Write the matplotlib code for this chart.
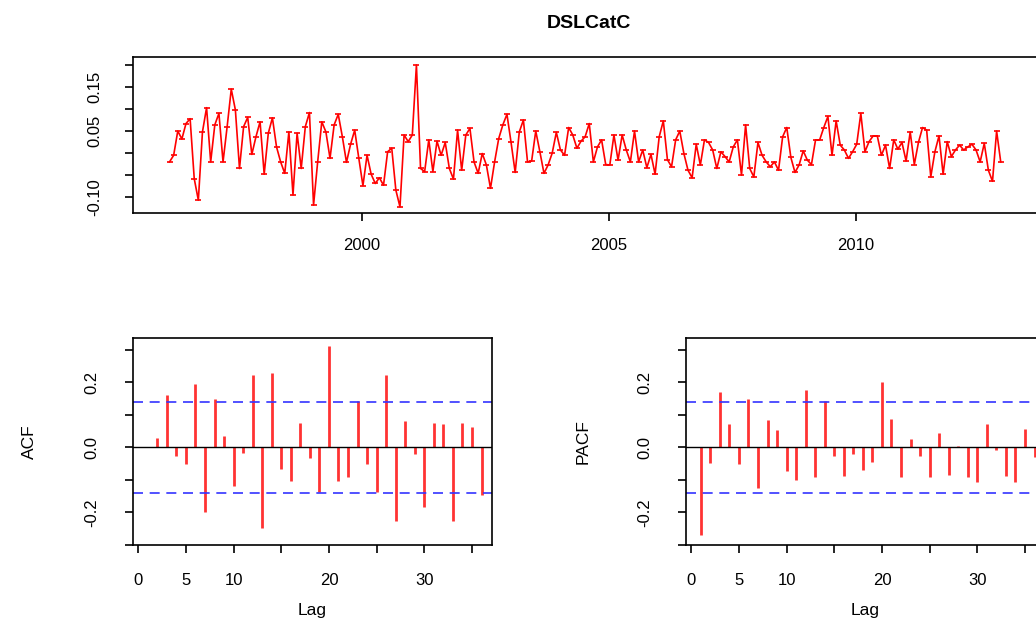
import matplotlib
matplotlib.use("Agg")
import matplotlib.pyplot as plt
import numpy as np

plt.rcParams['font.family'] = ['Liberation Sans', 'DejaVu Sans']

# monthly series
series = [
    -0.020, -0.005, 0.050, 0.032, 0.067, 0.078, -0.058, -0.107, 0.048, 0.103,
    -0.020, 0.064, 0.090, -0.020, 0.060, 0.145, 0.098, -0.035, 0.060, 0.081,
    -0.003, 0.037, 0.071, -0.048, 0.045, 0.080, 0.014, -0.020, -0.046, 0.048,
    -0.095, 0.045, -0.035, 0.060, 0.092, -0.118,
    -0.020, 0.071, 0.048, -0.012, 0.064, 0.088, 0.037, -0.021, 0.020, 0.052,
    -0.012, -0.074, -0.005, -0.048, -0.069, -0.056, -0.073, 0.003, 0.011, -0.084,
    -0.122, 0.041, 0.026, 0.041, 0.200, -0.035, -0.042, 0.030, -0.042, 0.027,
    -0.005, 0.024, -0.035, -0.059, 0.052, -0.039, 0.041, 0.056,
    -0.020, -0.046, -0.001, -0.027, -0.080, -0.020, 0.033, 0.064, 0.088, 0.024,
    -0.044, 0.048, 0.075, -0.020, -0.018, 0.050, 0.003, -0.046, -0.027, 0.000,
    0.047, 0.007, -0.005, 0.058, 0.041, 0.011, 0.027, 0.037, 0.067, -0.020,
    0.014, 0.030, -0.026, -0.027, 0.041, -0.016,
    0.041, 0.007, -0.020, 0.050, -0.020, 0.007, -0.033, -0.003, -0.048, 0.037,
    0.073, -0.015, -0.031, 0.030, 0.050, -0.001, -0.039, -0.056, 0.020, -0.027,
    0.030, 0.024, 0.007, -0.035, 0.003, -0.008, -0.020, 0.014, 0.030, -0.050,
    0.064, -0.035, -0.054, 0.024, -0.005, -0.020, -0.031,
    -0.020, -0.039, 0.037, 0.058, -0.010, -0.044, -0.027, 0.005, -0.016, -0.026,
    0.030, 0.030, 0.058, 0.083, -0.005, 0.073, 0.018, 0.007, -0.012, 0.003,
    0.020, 0.090, 0.003, 0.026, 0.039, 0.039, -0.005, 0.018, -0.035, 0.030,
    0.009, 0.024, -0.018, 0.048, -0.026, 0.024, 0.058,
    0.052, -0.054, 0.003, 0.039, -0.048, 0.026, -0.008, 0.007, 0.018, 0.007,
    0.014, 0.020, 0.007, -0.020, 0.022, -0.039, -0.064, 0.050, -0.020,
]
start_year = 1996.1

acf = [0.000, 0.030, 0.161, -0.026, -0.051, 0.195, -0.198, 0.150, 0.034, -0.120,
       -0.018, 0.223, -0.247, 0.230, -0.066, -0.102, 0.074, -0.033, -0.137, 0.310,
       -0.102, -0.092, 0.143, -0.052, -0.137, 0.223, -0.227, 0.082, -0.019, -0.183,
       0.074, 0.071, -0.227, 0.074, 0.064, -0.147]
pacf = [-0.269, -0.048, 0.169, 0.071, -0.051, 0.150, -0.125, 0.085, 0.052, -0.073,
        -0.099, 0.176, -0.091, 0.143, -0.026, -0.088, -0.019, -0.070, -0.044, 0.201,
        0.088, -0.091, 0.027, -0.026, -0.091, 0.045, -0.085, 0.005, -0.091, -0.105,
        0.071, -0.008, -0.088, -0.105, 0.056, -0.030]

n = len(series)
t = start_year + np.arange(n) / 12.0
ci = 1.96 / np.sqrt(199)

W, H = 1036, 621
fig = plt.figure(figsize=(W / 100, H / 100), dpi=100)

def box(l, t_, r, b):
    return [l / W, 1 - b / H, (r - l) / W, (b - t_) / H]

def style(ax):
    for s in ax.spines.values():
        s.set_linewidth(1.2)
    ax.tick_params(length=6, width=1.2, labelsize=12, pad=4)

# time series
ax = fig.add_axes(box(133, 57, 1045, 213))
ax.plot(t, series, color='red', lw=1.2, marker='_', ms=4, mew=1.2)
ax.set_xlim(1995.36, 2013.83)
ax.set_ylim(-0.136, 0.218)
ax.set_xticks([2000, 2005, 2010])
yt = [-0.10, -0.05, 0.0, 0.05, 0.10, 0.15, 0.20]
ax.set_yticks(yt)
ax.set_yticklabels(['-0.10', '', '', '0.05', '', '0.15', ''], rotation=90, va='center')
style(ax)
ax.tick_params(axis='x', pad=12)
ax.tick_params(axis='y', pad=16)
ax.set_title('DSLCatC', fontsize=14, fontweight='bold', pad=21)

def corr_panel(box_, vals, ylabel):
    a = fig.add_axes(box_)
    lags = np.arange(1, len(vals) + 1)
    a.vlines(lags, 0, vals, color='#ff3333', lw=2)
    a.axhline(0, color='black', lw=1)
    a.axhline(ci, color='#3333ff', lw=1.2, ls=(0, (6, 4)))
    a.axhline(-ci, color='#3333ff', lw=1.2, ls=(0, (6, 4)))
    a.set_xlim(-0.55, 37.1)
    a.set_ylim(-0.30, 0.336)
    a.set_xticks(np.arange(0, 40, 5))
    a.set_xticklabels(['0', '5', '10', '', '20', '', '30', ''])
    a.set_yticks([-0.3, -0.2, -0.1, 0.0, 0.1, 0.2, 0.3])
    a.set_yticklabels(['', '-0.2', '', '0.0', '', '0.2', ''], rotation=90, va='center')
    style(a)
    a.tick_params(axis='x', pad=14)
    a.tick_params(axis='y', pad=18)
    a.set_xlabel('Lag', fontsize=12.5, labelpad=11)
    a.set_ylabel(ylabel, fontsize=12.5, labelpad=34)
    return a

corr_panel(box(133, 338, 492, 545), acf, 'ACF')
corr_panel(box(686, 338, 1045, 545), pacf, 'PACF')

fig.savefig('out.png', dpi=100)
